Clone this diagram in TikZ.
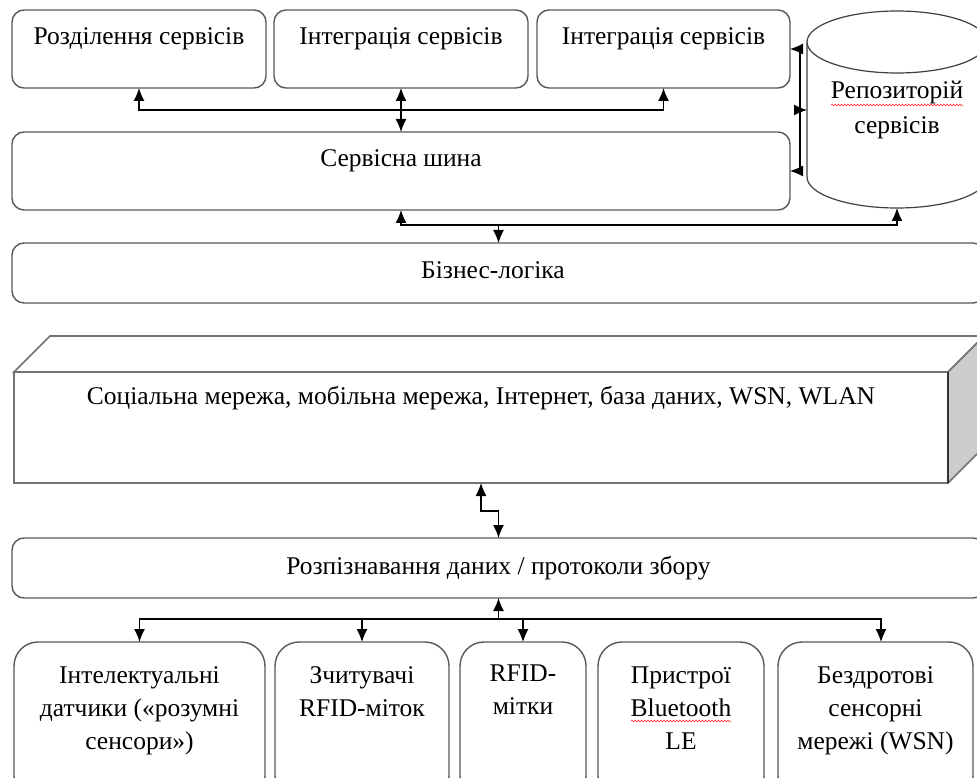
\documentclass[tikz,border=0pt]{standalone}
\usepackage{fontspec}
\setmainfont{Liberation Serif}
\usetikzlibrary{arrows.meta,decorations.pathmorphing}
\begin{document}
\begin{tikzpicture}[x=1pt,y=-1pt,
  txt/.style={font=\fontsize{25.5}{30}\selectfont, inner sep=0pt, anchor=base},
  rbox/.style={draw=black!65, line width=1.4pt, rounded corners=12pt, fill=white},
  bbox/.style={draw=black!65, line width=1.4pt, rounded corners=24pt, fill=white},
  flatbox/.style={draw=black!55, line width=1.7pt, fill=white},
  arr/.style={draw=black, line width=1.2pt, {Latex[length=13pt,width=11pt]}-{Latex[length=13pt,width=11pt]}},
  arrone/.style={draw=black, line width=1.2pt, -{Latex[length=13pt,width=11pt]}},
  squig/.style={draw=red!80, line width=0.6pt, decorate, decoration={snake, amplitude=0.9pt, segment length=3.2pt}}
]
\useasboundingbox (0,0) rectangle (977,778);
\begin{scope}
\clip (0,0) rectangle (977,778);
% top boxes
\draw[rbox] (12,10) rectangle (266,88);
\coordinate (b1s) at (139,88);
\draw[rbox] (274,10) rectangle (528,88);
\coordinate (b2s) at (401,88);
\draw[rbox] (537,10) rectangle (790,88);
\coordinate (b3s) at (663.5,88);
\coordinate (b3e) at (790,49);
\node[txt] (t1) at (139,45) {Розділення сервісів};
\node[txt] (t2) at (401,45) {Інтеграція сервісів};
\node[txt] (t3) at (663.5,45) {Інтеграція сервісів};
% bus
\draw[rbox] (12,132) rectangle (790,210);
\coordinate (busn) at (401,132);
\coordinate (buss) at (401,210);
\coordinate (buse) at (790,171);
\node[txt] (tbus) at (401,167) {Сервісна шина};
% repository cylinder
\draw[draw=black!75, line width=1.2pt, fill=white] (807,42) -- (807,177) arc[start angle=180, end angle=0, x radius=90, y radius=31] -- (987,42);
\draw[draw=black!75, line width=1.2pt, fill=white] (897,42) ellipse [x radius=90pt, y radius=31pt];
\coordinate (repow) at (807,110);
\coordinate (repob) at (897,208);
\node[txt] (trepo1) at (897,99) {Репозиторій};
\node[txt] (trepo2) at (897,134) {сервісів};
\draw[squig] (831,105) -- (963,105);
% business logic
\draw[rbox] (12,243) rectangle (985,303);
\coordinate (bizn) at (498.5,243);
\node[txt] (tbiz) at (493,278) {Бізнес-логіка};
% 3D network block
\draw[flatbox] (14,372) -- (50,336) -- (984,336) -- (948,372) -- cycle;
\fill[black!20] (948,372) -- (984,336) -- (984,447) -- (948,483) -- cycle;
\draw[draw=black!55, line width=1.7pt] (948,372) -- (984,336) (948,483) -- (984,447);
\draw[flatbox] (14,372) rectangle (948,483);
\draw[draw=black!80, line width=1.4pt] (948,372) -- (948,483);
\coordinate (nets) at (481,483);
\node[txt] (tnet) at (481,404) {Соціальна мережа, мобільна мережа, Інтернет, база даних, WSN, WLAN};
% recognition
\draw[rbox] (12,538) rectangle (985,598);
\coordinate (recn) at (498.5,538);
\coordinate (recs) at (498.5,598);
\node[txt] (trec) at (498.5,574) {Розпізнавання даних / протоколи збору};
% bottom boxes
\draw[bbox] (14,642) rectangle (265,800);
\draw[bbox] (275,642) rectangle (449,800);
\draw[bbox] (460,642) rectangle (586,800);
\draw[bbox] (598,642) rectangle (764,800);
\draw[bbox] (778,642) rectangle (973,800);
\coordinate (d1n) at (139.5,642);
\coordinate (d2n) at (362,642);
\coordinate (d3n) at (523,642);
\coordinate (d5n) at (881,642);
\node[txt] (a1) at (139.5,683) {Інтелектуальні};
\node[txt] (a2) at (139.5,716) {датчики («розумні};
\node[txt] (a3) at (139.5,749) {сенсори»)};
\node[txt] (c1) at (362,683) {Зчитувачі};
\node[txt] (c2) at (362,716) {RFID-міток};
\node[txt] (e1) at (523,681) {RFID-};
\node[txt] (e2) at (523,714) {мітки};
\node[txt] (f1) at (681,683) {Пристрої};
\node[txt] (f2) at (681,716) {Bluetooth};
\node[txt] (f3) at (681,749) {LE};
\draw[squig] (631,721) -- (731,721);
\node[txt] (g1) at (875.5,683) {Бездротові};
\node[txt] (g2) at (875.5,716) {сенсорні};
\node[txt] (g3) at (875.5,749) {мережі (WSN)};
% connectors top
\coordinate (hub1) at (401,110);
\draw[arr] (b1s) |- (hub1) -| (b3s);
\draw[arr] (b2s) -- (busn);
\draw[arr] (b3e) -- (800,49) |- (buse);
\draw[arrone] (800,110) -- (repow);
\coordinate (hub2) at (498.5,225);
\draw[arr] (buss) |- (hub2) -| (repob);
\draw[arrone] (hub2) -- (bizn);
% network to recognition
\draw[arr] (nets) -- (481,511) -| (recn);
% recognition to devices
\coordinate (hub3) at (498.5,619);
\draw[arrone] (hub3) -- (recs);
\draw[arr] (d1n) |- (hub3) -| (d5n);
\draw[arrone] (362,619) -- (d2n);
\draw[arrone] (523,619) -- (d3n);
\end{scope}
\end{tikzpicture}
\end{document}
